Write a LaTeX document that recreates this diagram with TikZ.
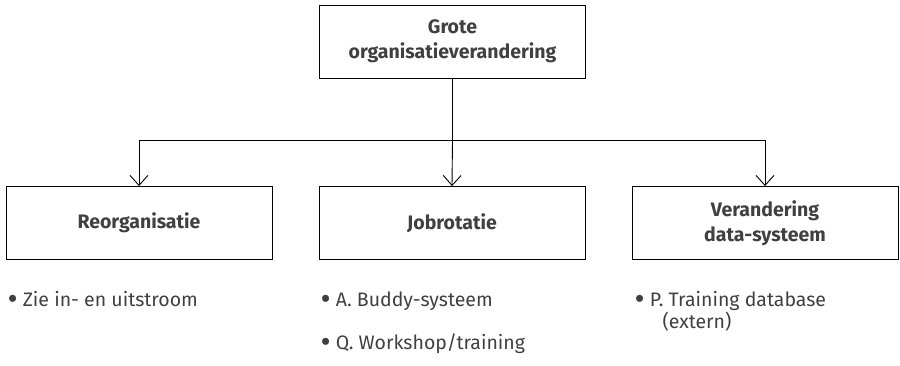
\documentclass[tikz,border=0pt]{standalone}
\usepackage{fontspec}
\setmainfont{Fira Sans}
\usetikzlibrary{arrows.meta}
\definecolor{tekst}{HTML}{404040}
\newcommand{\bol}{\raisebox{-3.5pt}{\scalebox{1.6}{\textbullet}}\ }
\begin{document}
\begin{tikzpicture}[x=1pt,y=1pt,
    blok/.style={draw,line width=0.9pt,minimum width=266pt,minimum height=73pt,
      align=center,text=tekst,font=\fontsize{19.5}{25}\selectfont\bfseries},
    punt/.style={anchor=base west,align=left,text=tekst,font=\fontsize{19.5}{22}\selectfont},
    pijl/.style={-{Straight Barb[length=10pt,width=18pt]},line width=0.9pt}]
\useasboundingbox (0,0) rectangle (900,-365);
% blokken
\node[blok] (grote) at (452.5,-41.5) {Grote\\organisatieverandering};
\node[blok] (reorg) at (139,-223) {Reorganisatie};
\node[blok] (jobrot) at (452,-223) {Jobrotatie};
\node[blok] (datasys) at (765,-223) {Verandering\\data-systeem};
% verbindingen
\draw[line width=0.9pt] (grote.south) -- ++(0,-62) coordinate (split);
\draw[pijl] (split) -| (reorg.north);
\draw[pijl] (split) -- (jobrot.north);
\draw[pijl] (split) -| (datasys.north);
% opsommingen
\node[punt] (zie) at (4,-306) {\bol Zie in- en uitstroom};
\node[punt] (buddy) at (317,-306) {\bol A. Buddy-systeem};
\node[punt] (workshop) at (317,-349) {\bol Q. Workshop/training};
\node[punt] (training) at (631,-328) {\bol P. Training database\\\hspace{28pt}(extern)};
\end{tikzpicture}
\end{document}
